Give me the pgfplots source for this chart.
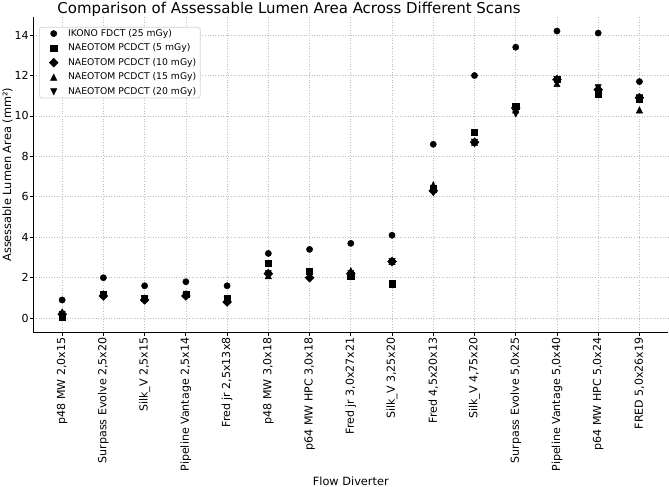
\documentclass[border=0pt]{standalone}
\usepackage{pgfplots}
\pgfplotsset{compat=1.18}
\usepackage{pgfplotstable}
\usepackage{fontspec}
\setmainfont{DejaVu Sans}

\pgfdeclareplotmark{mdiamond}{%
  \pgfpathmoveto{\pgfqpoint{0pt}{\pgfplotmarksize}}%
  \pgfpathlineto{\pgfqpoint{\pgfplotmarksize}{0pt}}%
  \pgfpathlineto{\pgfqpoint{0pt}{-\pgfplotmarksize}}%
  \pgfpathlineto{\pgfqpoint{-\pgfplotmarksize}{0pt}}%
  \pgfpathclose\pgfusepathqfillstroke}
\pgfdeclareplotmark{mtriup}{%
  \pgfpathmoveto{\pgfqpoint{0pt}{\pgfplotmarksize}}%
  \pgfpathlineto{\pgfqpoint{-\pgfplotmarksize}{-\pgfplotmarksize}}%
  \pgfpathlineto{\pgfqpoint{\pgfplotmarksize}{-\pgfplotmarksize}}%
  \pgfpathclose\pgfusepathqfillstroke}
\pgfdeclareplotmark{mtridown}{%
  \pgfpathmoveto{\pgfqpoint{0pt}{-\pgfplotmarksize}}%
  \pgfpathlineto{\pgfqpoint{-\pgfplotmarksize}{\pgfplotmarksize}}%
  \pgfpathlineto{\pgfqpoint{\pgfplotmarksize}{\pgfplotmarksize}}%
  \pgfpathclose\pgfusepathqfillstroke}

\pgfplotstableread{
idx ikono n5 n10 n15 n20
0 0.9 0.05 0.2 0.3 0.2
1 2.0 1.2 1.1 1.2 1.1
2 1.6 1.0 0.9 1.0 0.9
3 1.8 1.2 1.1 1.2 1.1
4 1.6 1.0 0.8 0.9 0.9
5 3.2 2.7 2.2 2.1 2.2
6 3.4 2.3 2.0 2.3 2.2
7 3.7 2.1 2.2 2.35 2.2
8 4.1 1.7 2.8 2.8 2.8
9 8.6 6.4 6.3 6.6 6.2
10 12.0 9.2 8.7 8.7 8.7
11 13.4 10.5 10.4 10.3 10.1
12 14.2 11.8 11.8 11.6 11.8
13 14.1 11.1 11.3 11.4 11.4
14 11.7 10.85 10.9 10.3 10.9
}\data

\pgfplotsset{
  scat/.style={only marks, mark options={fill=black, draw=black, line width=0.5bp, solid},
    legend image code/.code={\draw[##1] plot coordinates {(0bp,0bp)}; \path (-13bp,0bp) (11bp,0bp);}},
}

\begin{document}
\begin{tikzpicture}
\begin{axis}[
  scale only axis, width=635bp, height=316bp,
  xmin=-0.7, xmax=14.7, ymin=-0.72, ymax=14.91,
  axis x line=bottom, axis y line=left,
  axis line style={-, line width=1bp, black},
  tick align=outside, major tick length=3.5bp,
  tick style={black, line width=0.8bp},
  xtick={0,...,14},
  xticklabels={p48 MW 2{,}0x15, Surpass Evolve 2{,}5x20, Silk\_V 2{,}5x15, Pipeline Vantage 2{,}5x14, Fred jr 2{,}5x13x8, p48 MW 3{,}0x18, p64 MW HPC 3{,}0x18, Fred jr 3{,}0x27x21, Silk\_V 3{,}25x20, Fred 4{,}5x20x13, Silk\_V 4{,}75x20, Surpass Evolve 5{,}0x25, Pipeline Vantage 5{,}0x40, p64 MW HPC 5{,}0x24, FRED 5{,}0x26x19},
  xticklabel style={rotate=90, anchor=east, font=\fontsize{11.1}{13}\selectfont, inner sep=1bp},
  ytick={0,2,...,14},
  yticklabel style={font=\fontsize{11.1}{13}\selectfont, inner sep=1bp},
  /pgf/number format/assume math mode=true,
  grid=major,
  grid style={gray!50, line width=0.7bp, dash pattern=on 1bp off 1.6bp},
  xlabel={Flow Diverter},
  ylabel={Assessable Lumen Area (mm²)},
  xlabel style={at={(axis description cs:0.5,-0.4842)}, anchor=base, font=\fontsize{11.4}{13}\selectfont},
  ylabel style={at={(axis description cs:-0.0406,0.5)}, anchor=center, font=\fontsize{11.4}{13}\selectfont},
  title={Comparison of Assessable Lumen Area Across Different Scans},
  title style={at={(axis description cs:0.4027,1.0108)}, anchor=base, yshift=-6pt, font=\fontsize{15}{18}\selectfont},
  legend style={at={(axis description cs:0.009,0.9674)}, anchor=north west,
    draw=gray!35, line width=0.7bp, rounded corners=2.5bp, fill=white,
    font=\fontsize{9.3}{11}\selectfont, inner sep=1bp, row sep=4bp,
    nodes={inner xsep=3bp, inner ysep=1bp}},
  legend cell align=left,
]
\addplot[scat, mark=*, mark size=3.1bp] table[x=idx, y=ikono] {\data};
\addlegendentry{IKONO FDCT (25 mGy)}
\addplot[scat, mark=square*, mark size=3.1bp] table[x=idx, y=n5] {\data};
\addlegendentry{NAEOTOM PCDCT (5 mGy)}
\addplot[scat, mark=mdiamond, mark size=4.4bp] table[x=idx, y=n10] {\data};
\addlegendentry{NAEOTOM PCDCT (10 mGy)}
\addplot[scat, mark=mtriup, mark size=3.1bp] table[x=idx, y=n15] {\data};
\addlegendentry{NAEOTOM PCDCT (15 mGy)}
\addplot[scat, mark=mtridown, mark size=3.1bp] table[x=idx, y=n20] {\data};
\addlegendentry{NAEOTOM PCDCT (20 mGy)}
\end{axis}
\pgfresetboundingbox
\path[use as bounding box] (-33.3bp,-154.3bp) rectangle (635.7bp,332.7bp);
\end{tikzpicture}
\end{document}
